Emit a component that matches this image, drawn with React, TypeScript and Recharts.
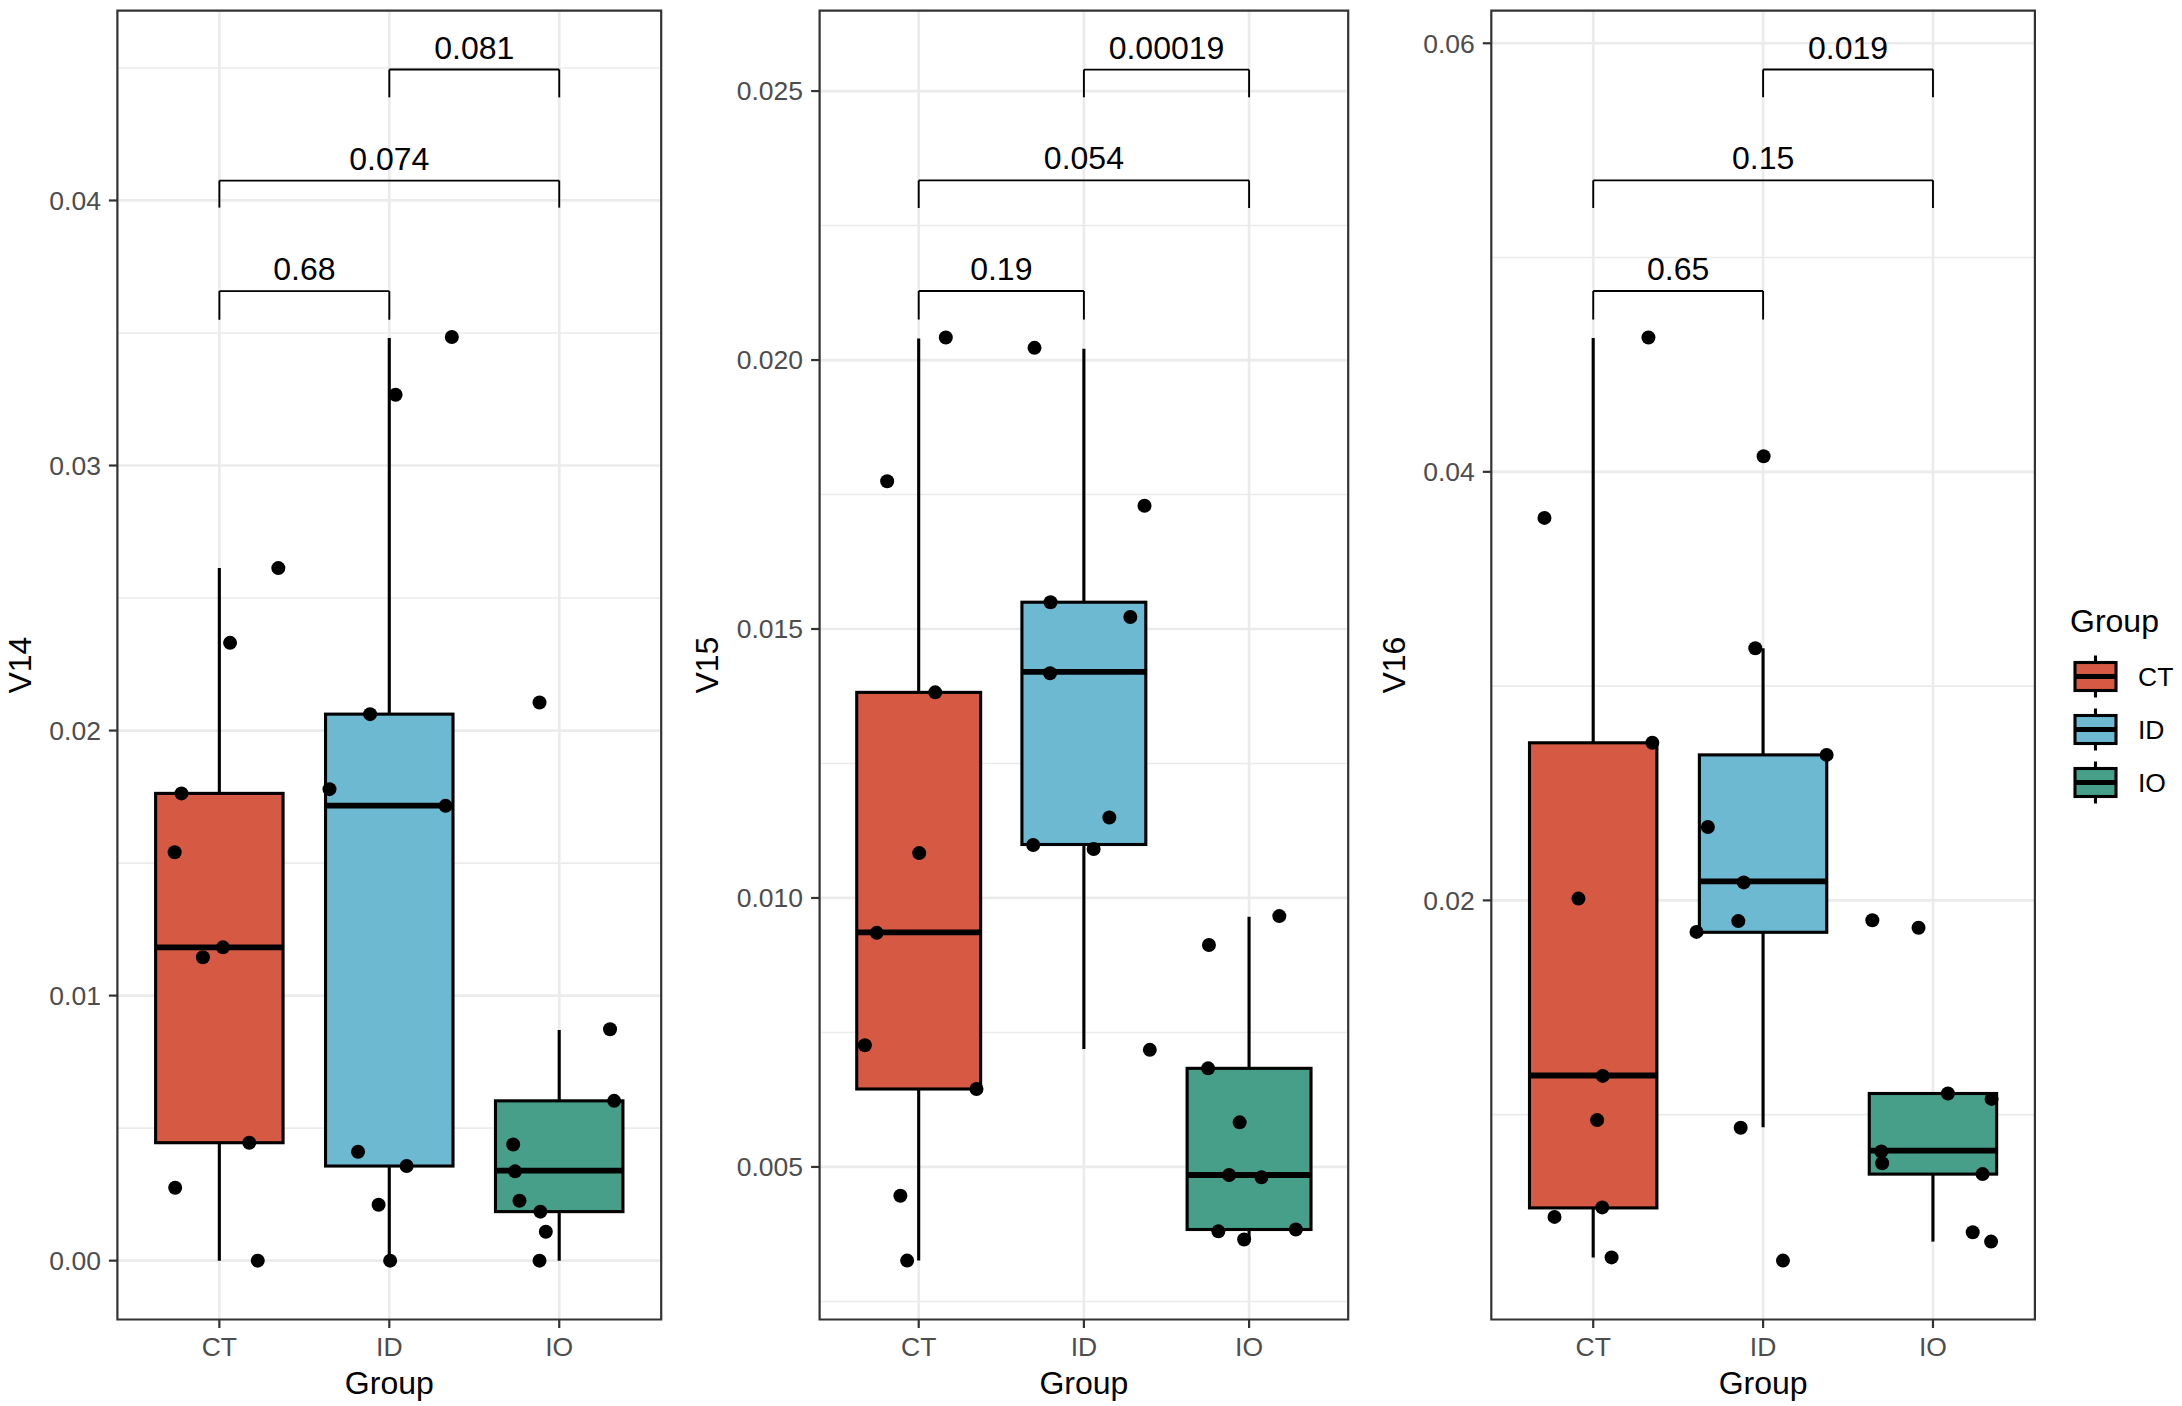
import React from "react";
import {
  CartesianGrid,
  ComposedChart,
  Bar,
  ReferenceArea,
  ReferenceLine,
  Scatter,
  XAxis,
  YAxis,
} from "recharts";

const FONT = '"Liberation Sans", Arial, Helvetica, sans-serif';

const groups = ["CT", "ID", "IO"];
const groupColors = ["#D65A43", "#6DB9D1", "#479F89"];

// box stats per group: [lower whisker, q1, median, q3, upper whisker]
const v14Stats = [
  [0, 0.00445, 0.01182, 0.01763, 0.02613],
  [0, 0.00357, 0.01717, 0.02062, 0.03481],
  [0, 0.00185, 0.0034, 0.00603, 0.0087],
];
const v14Values = [
  [0.02331, 0.02613, 0.01763, 0.01541, 0.01145, 0.01182, 0.00445, 0.00275, 0],
  [0.03485, 0.03267, 0.02062, 0.01779, 0.01716, 0.00411, 0.00357, 0.00211, 0],
  [0.02106, 0.00873, 0.00603, 0.00438, 0.00337, 0.00226, 0.00185, 0.00109, 0],
];
const v14Jitter = [
  [0.063, 0.347, -0.223, -0.263, -0.097, 0.021, 0.176, -0.26, 0.226],
  [0.368, 0.037, -0.113, -0.352, 0.331, -0.184, 0.102, -0.063, 0.005],
  [-0.116, 0.299, 0.323, -0.271, -0.26, -0.234, -0.111, -0.079, -0.116],
];
const v14Ticks = [0, 0.01, 0.02, 0.03, 0.04];
const v14Minor = [0.005, 0.015, 0.025, 0.035, 0.045];
const v14Domain = [-0.00222, 0.04716];
const v14Brackets = [
  { from: 1, to: 2, y: 0.03658, tip: 0.0355, p: "0.68" },
  { from: 1, to: 3, y: 0.04075, tip: 0.03973, p: "0.074" },
  { from: 2, to: 3, y: 0.04494, tip: 0.04389, p: "0.081" },
];

const v15Stats = [
  [0.003259, 0.006449, 0.009362, 0.013822, 0.020402],
  [0.007194, 0.010994, 0.014203, 0.015498, 0.020211],
  [0.003636, 0.003837, 0.00485, 0.006833, 0.009653],
];
const v15Values = [
  [0.020419, 0.017747, 0.013822, 0.010834, 0.009352, 0.007261, 0.006449, 0.004465, 0.003259],
  [0.020227, 0.01729, 0.015498, 0.015223, 0.014178, 0.011496, 0.010984, 0.01091, 0.007177],
  [0.009663, 0.009127, 0.006833, 0.005829, 0.00485, 0.004807, 0.003803, 0.003652, 0.003837],
];
const v15Jitter = [
  [0.164, -0.191, 0.1, 0.003, -0.254, -0.326, 0.35, -0.111, -0.07],
  [-0.299, 0.367, -0.202, 0.281, -0.205, 0.154, -0.307, 0.059, 0.399],
  [0.183, -0.243, -0.248, -0.057, -0.121, 0.075, -0.186, -0.03, 0.283],
];
const v15Ticks = [0.005, 0.01, 0.015, 0.02, 0.025];
const v15Minor = [0.0025, 0.0075, 0.0125, 0.0175, 0.0225];
const v15Domain = [0.002164, 0.026494];
const v15Brackets = [
  { from: 1, to: 2, y: 0.021283, tip: 0.020752, p: "0.19" },
  { from: 1, to: 3, y: 0.023339, tip: 0.022826, p: "0.054" },
  { from: 2, to: 3, y: 0.025399, tip: 0.024884, p: "0.00019" },
];

const v16Stats = [
  [0.00334, 0.005649, 0.011829, 0.027355, 0.046251],
  [0.009411, 0.018511, 0.020887, 0.02679, 0.03177],
  [0.004076, 0.007226, 0.008318, 0.010988, 0.010988],
];
const v16Values = [
  [0.04627, 0.037851, 0.027355, 0.020084, 0.01181, 0.009747, 0.005672, 0.005229, 0.00334],
  [0.040728, 0.03177, 0.02679, 0.023426, 0.02084, 0.019034, 0.01853, 0.009392, 0.00319],
  [0.019076, 0.018721, 0.010988, 0.010735, 0.008278, 0.007732, 0.007226, 0.004515, 0.004076],
];
const v16Jitter = [
  [0.325, -0.287, 0.348, -0.087, 0.056, 0.023, 0.053, -0.228, 0.108],
  [0.003, -0.046, 0.374, -0.325, -0.114, -0.146, -0.392, -0.132, 0.117],
  [-0.357, -0.085, 0.088, 0.345, -0.304, -0.299, 0.292, 0.234, 0.342],
];
const v16Ticks = [0.02, 0.04, 0.06];
const v16Minor = [0.01, 0.03, 0.05];
const v16Domain = [0.000441, 0.06152];
const v16Brackets = [
  { from: 1, to: 2, y: 0.04844, tip: 0.047105, p: "0.65" },
  { from: 1, to: 3, y: 0.053602, tip: 0.052314, p: "0.15" },
  { from: 2, to: 3, y: 0.058773, tip: 0.05748, p: "0.019" },
];

// draws whiskers, box and median inside the [min, max] range bar
const BoxShape = (props: any) => {
  const { x, y, width, height, payload, boxWidth } = props;
  const top = Math.min(y, y + height);
  const bottom = Math.max(y, y + height);
  const [lo, q1, med, q3, hi] = payload.stats;
  const py = (v: number) =>
    hi === lo ? top : top + ((bottom - top) * (hi - v)) / (hi - lo);
  const cx = x + (width || 0) / 2;
  const bx = cx - boxWidth / 2;
  return (
    <g>
      <line x1={cx} x2={cx} y1={py(hi)} y2={py(lo)} stroke="#000" strokeWidth={3.1} />
      <rect
        x={bx}
        y={py(q3)}
        width={boxWidth}
        height={py(q1) - py(q3)}
        fill={payload.fill}
        stroke="#000"
        strokeWidth={3.1}
      />
      <line x1={bx} x2={bx + boxWidth} y1={py(med)} y2={py(med)} stroke="#000" strokeWidth={5.8} />
    </g>
  );
};

const Dot = (props: any) => <circle cx={props.cx} cy={props.cy} r={7} fill="#000" />;

function Panel({
  title,
  stats,
  values,
  jitter,
  ticks,
  minor,
  domain,
  brackets,
  decimals,
  left,
  width,
  yAxisWidth,
  marginRight,
  titleCenter,
}: any) {
  const height = 1406;
  const plotWidth = width - yAxisWidth - marginRight;
  const boxWidth = (plotWidth / 3.2) * 0.75;

  const boxes = groups.map((g, i) => ({
    pos: i + 1,
    group: g,
    range: [stats[i][0], stats[i][4]],
    stats: stats[i],
    fill: groupColors[i],
  }));
  const points = values.flatMap((vals: number[], i: number) =>
    vals.map((v, j) => ({ pos: i + 1 + jitter[i][j], val: v }))
  );

  const yTitle = (p: any) => {
    const vb = p.viewBox;
    const bx = vb.x + titleCenter + 11.5;
    const cy = vb.y + vb.height / 2;
    return (
      <text
        x={bx}
        y={cy}
        transform={`rotate(-90 ${bx} ${cy})`}
        textAnchor="middle"
        fontSize={32}
        fontFamily={FONT}
        fill="#000"
      >
        {title}
      </text>
    );
  };
  const xTitle = (p: any) => {
    const vb = p.viewBox;
    return (
      <text
        x={vb.x + vb.width / 2}
        y={vb.y + 74}
        textAnchor="middle"
        fontSize={32}
        fontFamily={FONT}
        fill="#000"
      >
        Group
      </text>
    );
  };

  return (
    <div style={{ position: "absolute", left, top: 0 }}>
      <ComposedChart
        width={width}
        height={height}
        data={boxes}
        margin={{ top: 10.7, right: marginRight, left: 0, bottom: 0 }}
      >
        <CartesianGrid
          stroke="#EBEBEB"
          strokeWidth={1.6}
          vertical={false}
          horizontalValues={minor}
        />
        <CartesianGrid
          stroke="#EBEBEB"
          strokeWidth={2.7}
          horizontalValues={ticks}
          verticalValues={[1, 2, 3]}
        />
        <XAxis
          type="number"
          dataKey="pos"
          domain={[0.4, 3.6]}
          ticks={[1, 2, 3]}
          interval={0}
          allowDataOverflow
          tickFormatter={(v: number) => groups[v - 1]}
          height={height - 10.7 - 1308.8}
          axisLine={false}
          tickSize={8.5}
          tickMargin={9}
          tickLine={{ stroke: "#333333", strokeWidth: 2.2 }}
          tick={{ fill: "#4D4D4D", fontSize: 26.5, fontFamily: FONT }}
          label={xTitle}
        />
        <YAxis
          type="number"
          domain={domain}
          ticks={ticks}
          interval={0}
          allowDataOverflow
          width={yAxisWidth}
          tickFormatter={(v: number) => v.toFixed(decimals)}
          axisLine={false}
          tickSize={8.5}
          tickMargin={8}
          tickLine={{ stroke: "#333333", strokeWidth: 2.2 }}
          tick={{ fill: "#4D4D4D", fontSize: 26.5, fontFamily: FONT }}
          label={yTitle}
        />
        <ReferenceArea
          x1={0.4}
          x2={3.6}
          y1={domain[0]}
          y2={domain[1]}
          fill="none"
          fillOpacity={0}
          stroke="#333333"
          strokeWidth={2.2}
          ifOverflow="visible"
        />
        <Bar
          dataKey="range"
          barSize={boxWidth}
          shape={(p: any) => <BoxShape {...p} boxWidth={boxWidth} />}
          isAnimationActive={false}
        />
        <Scatter data={points} dataKey="val" shape={Dot} isAnimationActive={false} />
        {brackets.map((b: any, i: number) => (
          <ReferenceLine
            key={`h${i}`}
            segment={[
              { x: b.from, y: b.y },
              { x: b.to, y: b.y },
            ]}
            stroke="#000"
            strokeWidth={1.9}
            ifOverflow="visible"
            label={{
              value: b.p,
              position: "top",
              offset: 11,
              fontSize: 32,
              fontFamily: FONT,
              fill: "#000",
            }}
          />
        ))}
        {brackets.flatMap((b: any, i: number) =>
          [b.from, b.to].map((xv: number, k: number) => (
            <ReferenceLine
              key={`v${i}-${k}`}
              segment={[
                { x: xv, y: b.y },
                { x: xv, y: b.tip },
              ]}
              stroke="#000"
              strokeWidth={1.9}
              ifOverflow="visible"
            />
          ))
        )}
      </ComposedChart>
    </div>
  );
}

function GroupLegend() {
  return (
    <svg
      width={122}
      height={240}
      style={{ position: "absolute", left: 2060, top: 590 }}
    >
      <text x={10} y={41.5} fontSize={32} fontFamily={FONT} fill="#000">
        Group
      </text>
      {groups.map((g, i) => {
        const cy = 86.5 + i * 53;
        return (
          <g key={g}>
            <line x1={35.5} x2={35.5} y1={cy - 21} y2={cy + 21} stroke="#000" strokeWidth={3.1} />
            <rect x={15} y={cy - 14} width={41} height={28} fill={groupColors[i]} stroke="#000" strokeWidth={3.1} />
            <line x1={15} x2={56} y1={cy} y2={cy} stroke="#000" strokeWidth={4.8} />
            <text x={78} y={cy + 9.2} fontSize={26.5} fontFamily={FONT} fill="#000">
              {g}
            </text>
          </g>
        );
      })}
    </svg>
  );
}

export default function App() {
  return (
    <div
      style={{
        position: "absolute",
        left: 0,
        top: 0,
        width: 2182,
        height: 1406,
        background: "#fff",
        overflow: "hidden",
      }}
    >
      <Panel
        title="V14"
        stats={v14Stats}
        values={v14Values}
        jitter={v14Jitter}
        ticks={v14Ticks}
        minor={v14Minor}
        domain={v14Domain}
        brackets={v14Brackets}
        decimals={2}
        left={0}
        width={700}
        yAxisWidth={117.4}
        marginRight={38.8}
        titleCenter={20}
      />
      <Panel
        title="V15"
        stats={v15Stats}
        values={v15Values}
        jitter={v15Jitter}
        ticks={v15Ticks}
        minor={v15Minor}
        domain={v15Domain}
        brackets={v15Brackets}
        decimals={3}
        left={680}
        width={700}
        yAxisWidth={139.6}
        marginRight={31.8}
        titleCenter={26.5}
      />
      <Panel
        title="V16"
        stats={v16Stats}
        values={v16Values}
        jitter={v16Jitter}
        ticks={v16Ticks}
        minor={v16Minor}
        domain={v16Domain}
        brackets={v16Brackets}
        decimals={2}
        left={1370}
        width={680}
        yAxisWidth={121.3}
        marginRight={15.1}
        titleCenter={24}
      />
      <GroupLegend />
    </div>
  );
}
